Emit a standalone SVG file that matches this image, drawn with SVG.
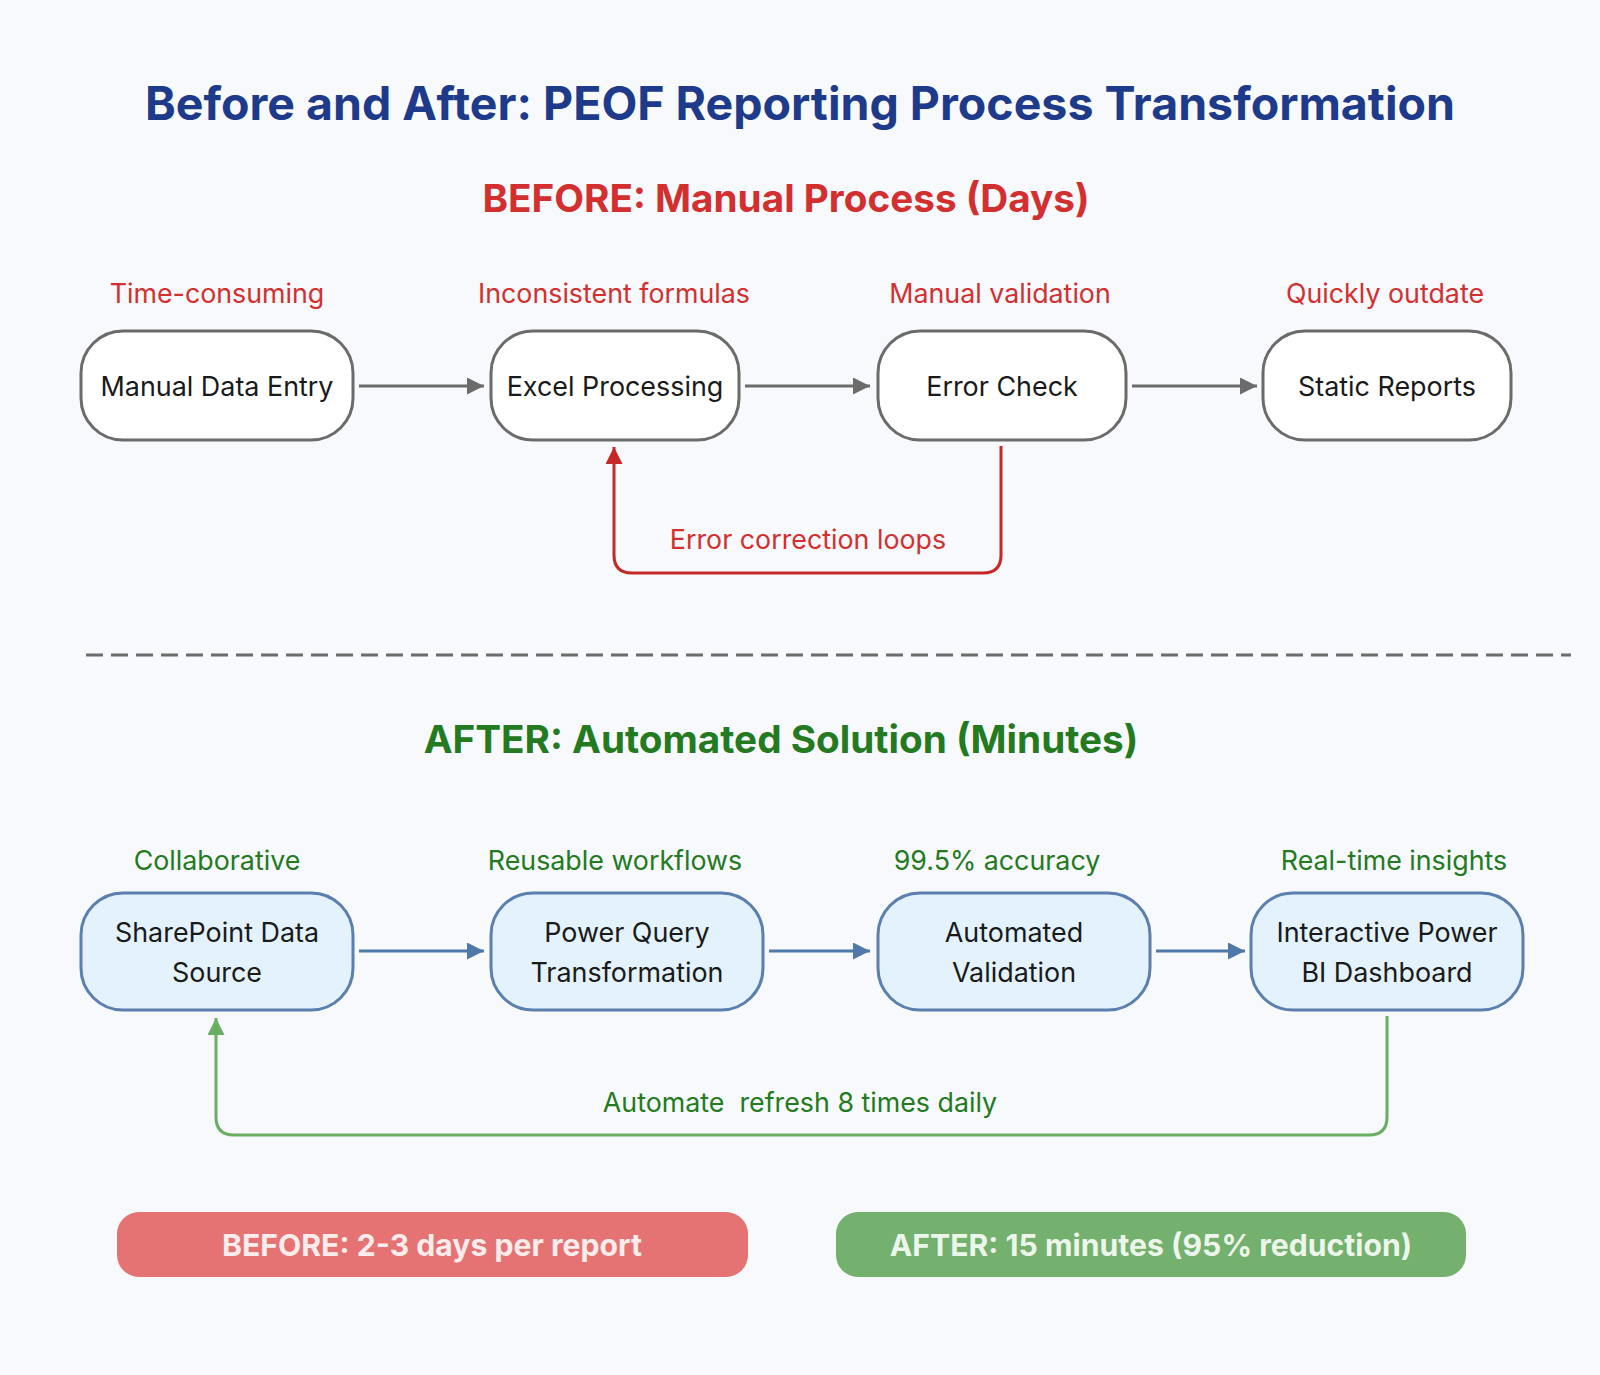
<svg xmlns="http://www.w3.org/2000/svg" width="1600" height="1375" viewBox="0 0 1600 1375">
<style>
text{font-family:Inter,"Noto Sans","Liberation Sans",sans-serif;text-anchor:middle;dominant-baseline:central}
.title{font-size:46.5px;font-weight:700;fill:#1e3a8a}
.h-before{font-size:38.7px;font-weight:700;fill:#d32f2f}
.h-after{font-size:38.7px;font-weight:700;fill:#237a1f}
.note-r{font-size:26.8px;fill:#d32f2f}
.note-g{font-size:26.8px;fill:#237a1f}
.lbl{font-size:26.9px;fill:#1a1a1a}
.box-b{fill:#ffffff;stroke:#6b6b6b;stroke-width:3}
.box-a{fill:#e3f2fd;stroke:#5b7fae;stroke-width:3}
.ar-g{stroke:#6b6b6b;stroke-width:3;fill:none}
.ar-b{stroke:#4f79a8;stroke-width:3;fill:none}
.pill-t{font-size:30.2px;font-weight:700}
</style>
<defs>
<marker id="mg" viewBox="0 0 10 10" refX="10" refY="5" markerWidth="17" markerHeight="17" orient="auto" markerUnits="userSpaceOnUse"><path d="M0,0 L10,5 L0,10 z" fill="#6b6b6b"/></marker>
<marker id="mb" viewBox="0 0 10 10" refX="10" refY="5" markerWidth="17" markerHeight="17" orient="auto" markerUnits="userSpaceOnUse"><path d="M0,0 L10,5 L0,10 z" fill="#4f79a8"/></marker>
<marker id="mr" viewBox="0 0 10 10" refX="10" refY="5" markerWidth="17" markerHeight="17" orient="auto" markerUnits="userSpaceOnUse"><path d="M0,0 L10,5 L0,10 z" fill="#c62828"/></marker>
<marker id="mgr" viewBox="0 0 10 10" refX="10" refY="5" markerWidth="17" markerHeight="17" orient="auto" markerUnits="userSpaceOnUse"><path d="M0,0 L10,5 L0,10 z" fill="#6aae62"/></marker>
</defs>
<rect width="1600" height="1375" fill="#f7f9fc"/>
<text class="title" x="800" y="103">Before and After: PEOF Reporting Process Transformation</text>
<text class="h-before" x="786" y="198">BEFORE: Manual Process (Days)</text>
<text class="h-after" x="781" y="739">AFTER: Automated Solution (Minutes)</text>

<line x1="86" y1="655" x2="1571" y2="655" stroke="#6b6b6b" stroke-width="3" stroke-dasharray="17 8"/>

<g id="connectors">
<line class="ar-g" x1="359" y1="386" x2="484" y2="386" marker-end="url(#mg)"/>
<line class="ar-g" x1="745" y1="386" x2="870" y2="386" marker-end="url(#mg)"/>
<line class="ar-g" x1="1132" y1="386" x2="1257" y2="386" marker-end="url(#mg)"/>
<path d="M1001,446 V555 Q1001,573 983,573 H632 Q614,573 614,555 V447" fill="none" stroke="#c62828" stroke-width="3" marker-end="url(#mr)"/>
<text class="note-r" x="808" y="539">Error correction loops</text>
<line class="ar-b" x1="359" y1="951" x2="484" y2="951" marker-end="url(#mb)"/>
<line class="ar-b" x1="769" y1="951" x2="870" y2="951" marker-end="url(#mb)"/>
<line class="ar-b" x1="1156" y1="951" x2="1245" y2="951" marker-end="url(#mb)"/>
<path d="M1387,1016 V1117 Q1387,1135 1369,1135 H234 Q216,1135 216,1117 V1018" fill="none" stroke="#6aae62" stroke-width="3" marker-end="url(#mgr)"/>
<text class="note-g" x="800" y="1102" xml:space="preserve">Automate  refresh 8 times daily</text>
</g>

<g id="n-manual-entry">
<text class="note-r" x="217" y="293">Time-consuming</text>
<rect class="box-b" x="81" y="331" width="272" height="109" rx="42"/>
<text class="lbl" x="217" y="386">Manual Data Entry</text>
</g>
<g id="n-excel">
<text class="note-r" x="614" y="293">Inconsistent formulas</text>
<rect class="box-b" x="491" y="331" width="248" height="109" rx="42"/>
<text class="lbl" x="615" y="386">Excel Processing</text>
</g>
<g id="n-error-check">
<text class="note-r" x="1000" y="293">Manual validation</text>
<rect class="box-b" x="878" y="331" width="248" height="109" rx="42"/>
<text class="lbl" x="1002" y="386">Error Check</text>
</g>
<g id="n-static">
<text class="note-r" x="1385" y="293">Quickly outdate</text>
<rect class="box-b" x="1263" y="331" width="248" height="109" rx="42"/>
<text class="lbl" x="1387" y="386">Static Reports</text>
</g>

<g id="n-sharepoint">
<text class="note-g" x="217" y="860">Collaborative</text>
<rect class="box-a" x="81" y="893" width="272" height="117" rx="42"/>
<text class="lbl" x="217" y="932">SharePoint Data</text>
<text class="lbl" x="217" y="972">Source</text>
</g>
<g id="n-powerquery">
<text class="note-g" x="615" y="860">Reusable workflows</text>
<rect class="box-a" x="491" y="893" width="272" height="117" rx="42"/>
<text class="lbl" x="627" y="932">Power Query</text>
<text class="lbl" x="627" y="972">Transformation</text>
</g>
<g id="n-validation">
<text class="note-g" x="997" y="860">99.5% accuracy</text>
<rect class="box-a" x="878" y="893" width="272" height="117" rx="42"/>
<text class="lbl" x="1014" y="932">Automated</text>
<text class="lbl" x="1014" y="972">Validation</text>
</g>
<g id="n-dashboard">
<text class="note-g" x="1394" y="860">Real-time insights</text>
<rect class="box-a" x="1251" y="893" width="272" height="117" rx="42"/>
<text class="lbl" x="1387" y="932">Interactive Power</text>
<text class="lbl" x="1387" y="972">BI Dashboard</text>
</g>

<g id="summary-before">
<rect x="117" y="1212" width="631" height="65" rx="22" fill="#e57373"/>
<text class="pill-t" x="432" y="1245" fill="#fdecec">BEFORE: 2-3 days per report</text>
</g>
<g id="summary-after">
<rect x="836" y="1212" width="630" height="65" rx="22" fill="#74b06e"/>
<text class="pill-t" x="1151" y="1245" fill="#edf6ea">AFTER: 15 minutes (95% reduction)</text>
</g>
</svg>
